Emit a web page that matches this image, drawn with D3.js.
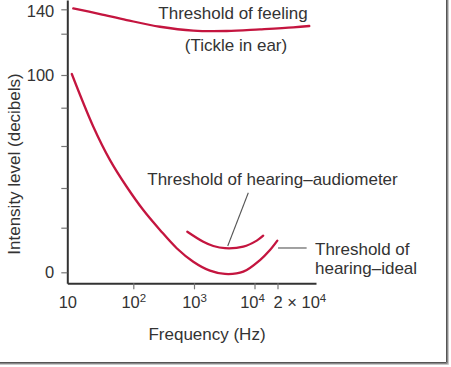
<!DOCTYPE html>
<html><head><meta charset="utf-8">
<script src="https://cdn.jsdelivr.net/npm/d3@7"></script>
<style>
html,body{margin:0;padding:0;background:#fff;}
svg{display:block;font-family:"Liberation Sans",Arial,Helvetica,sans-serif;}
</style></head>
<body>
<svg id="chart" width="451" height="367"></svg>
<script>
// ---- data ----
const feelingFreq = [12.3, 31.3, 79.4, 275, 973, 3470, 11800, 35300, 62800];
const feelingDb   = [140.6, 136.1, 131.2, 125.7, 122.5, 122.2, 123.6, 125.2, 126.3];

const idealFreq = [11.7, 24.8, 44.4, 79.4, 146, 275, 519, 973, 1837, 3250, 6530, 11800, 15950, 19900];
const idealDb   = [100.5, 70.1, 53.3, 40.6, 28.9, 19.0, 10.8, 4.75, 0.72, -0.76, 0.27, 5.5, 10, 14.2];

const audioFreq = [776, 1426, 2085, 3250, 6530, 10700, 13000];
const audioDb   = [18.2, 13.7, 11.8, 10.8, 11.5, 14.2, 16.4];

const xTickValues = [10, 100, 1000, 10000, 20000];
const xTickBase   = ["10", "10", "10", "10", "2 \u00d7 10"];
const xTickSup    = ["", "2", "3", "4", "4"];

const yTickValues = [0, 20, 40, 60, 80, 100, 120, 140];
const yTickLabels = ["0", "", "", "", "", "100", "", "140"];

const labelFeeling  = ["Threshold of feeling", "(Tickle in ear)"];
const labelAudio    = "Threshold of hearing\u2013audiometer";
const labelIdeal    = ["Threshold of", "hearing\u2013ideal"];
const xTitle = "Frequency (Hz)";
const yTitle = "Intensity level (decibels)";

// pointer lines (data units)
const audioPointer = [[3610, 11.8], [7900, 37.6]];
const idealPointer = [[20370, 10.9], [57100, 10.9]];

// ---- scales (hand-drawn, piecewise) ----
const x = d3.scaleLog()
  .domain([10, 100, 1000, 10000, 20000, 80000])
  .range([67.3, 133.3, 194, 254.5, 277.5, 316]);
const y = d3.scaleLinear()
  .domain([-5, 0, 20, 40, 60, 80, 100, 120, 140, 146])
  .range([283.3, 272.3, 227.7, 188, 146, 107.7, 75, 33.7, 9.3, 0]);

const svg = d3.select("#chart");
const red = "#c4153f";
const textCol = "#333";

// frame shadow
const frame = svg.append("g");
[["#555", 0.5], ["#888", 1.5], ["#c8c8c8", 2.5]].forEach(([c, o]) => {
  frame.append("line").attr("x1", 446 + o).attr("x2", 446 + o).attr("y1", 0).attr("y2", 362 + o)
    .attr("stroke", c).attr("stroke-width", 1);
  frame.append("line").attr("x1", 0).attr("x2", 446 + o).attr("y1", 362 + o).attr("y2", 362 + o)
    .attr("stroke", c).attr("stroke-width", 1);
});

// axes
const xAxis = d3.axisBottom(x).tickValues(xTickValues).tickSize(6).tickSizeOuter(0).tickFormat(() => "");
const gx = svg.append("g").attr("transform", `translate(0,${y(-5)})`).call(xAxis);
gx.select(".domain").attr("stroke", "#333").attr("stroke-width", 2);
gx.selectAll(".tick line").attr("stroke", "#777").attr("stroke-width", 1.2)
  .attr("opacity", (d, i) => i === 0 ? 0 : 1);
gx.selectAll(".tick text").remove();
gx.selectAll(".tick").each(function(d, i) {
  const t = d3.select(this).append("text")
    .attr("y", 25).attr("fill", textCol).attr("font-size", 16.5)
    .attr("text-anchor", i === 4 ? "start" : "middle")
    .attr("x", i === 4 ? -4.5 : (i === 3 ? -2.5 : 0));
  t.append("tspan").text(xTickBase[i]);
  if (xTickSup[i]) t.append("tspan").attr("font-size", 11.5).attr("dy", -6.5).text(xTickSup[i]);
});

const yAxis = d3.axisLeft(y).tickValues(yTickValues).tickSize(6).tickSizeOuter(0)
  .tickFormat((d, i) => yTickLabels[i]);
const gy = svg.append("g").attr("transform", `translate(${x(10)},0)`).call(yAxis);
gy.select(".domain").attr("stroke", "#333").attr("stroke-width", 2);
gy.selectAll(".tick line").attr("stroke", "#777").attr("stroke-width", 1.2);
gy.selectAll(".tick text").attr("fill", textCol).attr("font-size", 16.5)
  .attr("font-family", "Liberation Sans, Arial, sans-serif").attr("x", -13)
  .attr("dy", d => d === 140 ? "0.45em" : "0.34em");

// axis titles
svg.append("text").attr("x", 207).attr("y", 340).attr("text-anchor", "middle")
  .attr("fill", textCol).attr("font-size", 17).text(xTitle);
svg.append("text").attr("transform", "translate(20,164) rotate(-90)").attr("text-anchor", "middle")
  .attr("fill", textCol).attr("font-size", 17).text(yTitle);

// curves
const line = d3.line().x(d => x(d[0])).y(d => y(d[1])).curve(d3.curveCatmullRom.alpha(0.5));
const series = [
  [feelingFreq, feelingDb],
  [idealFreq, idealDb],
  [audioFreq, audioDb]
];
series.forEach(([f, v]) => {
  svg.append("path").datum(f.map((d, i) => [d, v[i]]))
    .attr("d", line).attr("fill", "none").attr("stroke", red).attr("stroke-width", 2.3)
    .attr("stroke-linecap", "round");
});

// pointers
const straight = d3.line().x(d => x(d[0])).y(d => y(d[1]));
[audioPointer, idealPointer].forEach(p => {
  svg.append("path").attr("d", straight(p)).attr("stroke", "#555").attr("stroke-width", 1.1).attr("fill", "none");
});

// annotations
svg.append("text").attr("x", 233).attr("y", 19).attr("text-anchor", "middle")
  .attr("fill", textCol).attr("font-size", 17).text(labelFeeling[0]);
svg.append("text").attr("x", 236).attr("y", 51).attr("text-anchor", "middle")
  .attr("fill", textCol).attr("font-size", 17).text(labelFeeling[1]);
svg.append("text").attr("x", 272.5).attr("y", 184.5).attr("text-anchor", "middle")
  .attr("fill", textCol).attr("font-size", 17).text(labelAudio);
svg.append("text").attr("x", 315).attr("y", 255).attr("text-anchor", "start")
  .attr("fill", textCol).attr("font-size", 17).text(labelIdeal[0]);
svg.append("text").attr("x", 315).attr("y", 274).attr("text-anchor", "start")
  .attr("fill", textCol).attr("font-size", 17).text(labelIdeal[1]);
</script>
</body></html>
